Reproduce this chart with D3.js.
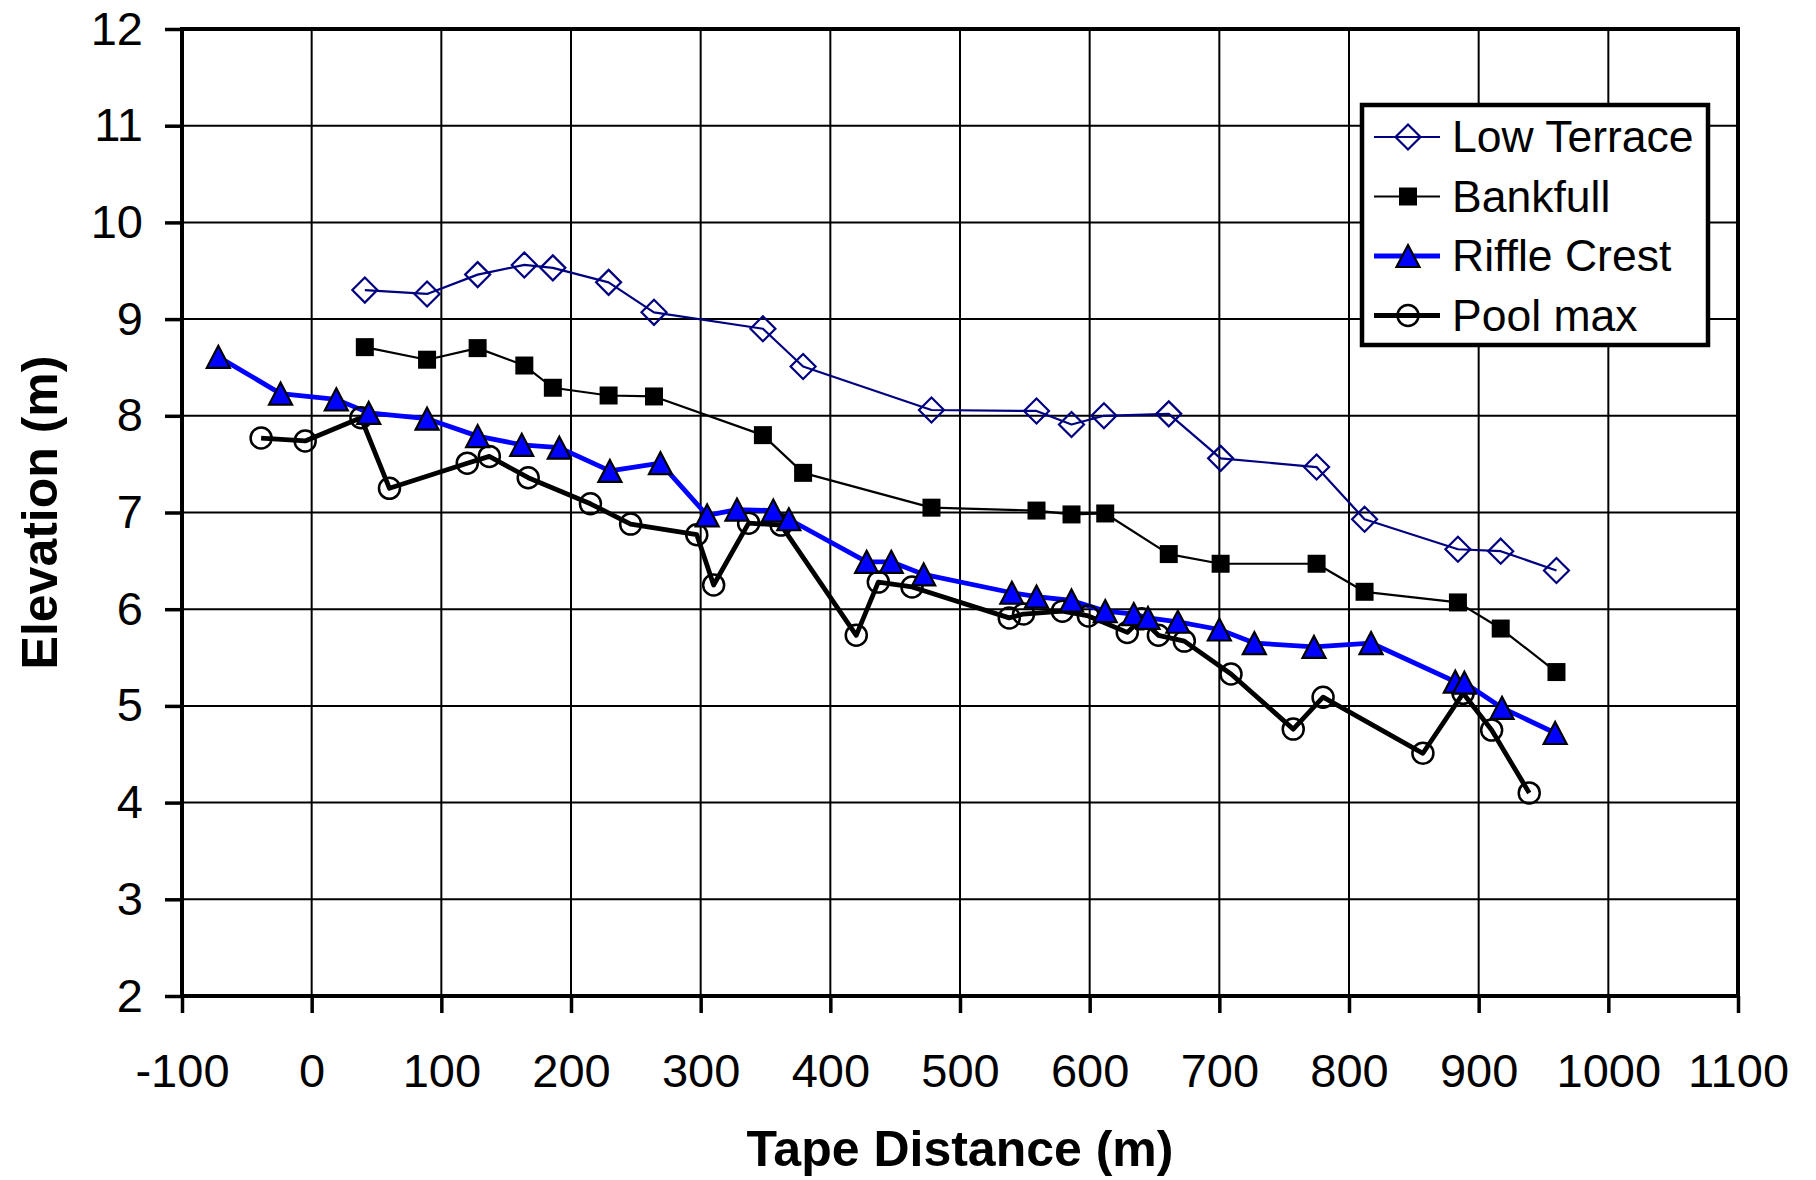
<!DOCTYPE html>
<html>
<head>
<meta charset="utf-8">
<script src="https://cdn.jsdelivr.net/npm/d3@7"></script>
<style>
body { margin: 0; background: #fff; }
text { font-family: "Liberation Sans", Arial, sans-serif; fill: #000; }
</style>
</head>
<body>
<div id="chart"></div>
<script>
// values
var xTicks = [-100, 0, 100, 200, 300, 400, 500, 600, 700, 800, 900, 1000, 1100];
var yTicks = [2, 3, 4, 5, 6, 7, 8, 9, 10, 11, 12];

var lowTerraceX = [41, 89, 128, 164, 186, 229, 264, 348, 379, 478, 559, 586, 611, 661, 701, 775, 812, 884, 917, 960];
var lowTerraceY = [9.30, 9.26, 9.46, 9.56, 9.53, 9.38, 9.07, 8.90, 8.51, 8.06, 8.05, 7.91, 8.00, 8.02, 7.56, 7.47, 6.93, 6.62, 6.60, 6.40];

var bankfullX = [41, 89, 128, 164, 186, 229, 264, 348, 379, 478, 559, 586, 612, 661, 701, 775, 812, 884, 917, 960];
var bankfullY = [8.71, 8.58, 8.70, 8.52, 8.29, 8.21, 8.20, 7.80, 7.41, 7.05, 7.02, 6.98, 6.99, 6.57, 6.47, 6.47, 6.18, 6.07, 5.80, 5.35];

var riffleX = [-72, -24, 19, 44, 89, 128, 162, 191, 230, 269, 305, 328, 356, 368, 428, 447, 472, 540, 559, 586, 612, 634, 645, 668, 700, 727, 773, 817, 882, 889, 918, 959];
var riffleY = [8.61, 8.23, 8.17, 8.03, 7.97, 7.79, 7.70, 7.67, 7.43, 7.51, 6.97, 7.03, 7.02, 6.93, 6.49, 6.49, 6.36, 6.17, 6.13, 6.09, 5.98, 5.95, 5.91, 5.87, 5.79, 5.65, 5.61, 5.65, 5.25, 5.24, 4.98, 4.72];

var poolX = [-39, -5, 38, 60, 120, 137, 167, 215, 246, 297, 310, 337, 362, 420, 437, 463, 538, 549, 579, 599, 629, 640, 653, 673, 709, 757, 780, 857, 888, 910, 939];
var poolY = [7.77, 7.74, 7.98, 7.25, 7.51, 7.58, 7.36, 7.09, 6.88, 6.77, 6.25, 6.89, 6.87, 5.73, 6.28, 6.23, 5.91, 5.95, 5.98, 5.93, 5.76, 5.90, 5.73, 5.67, 5.33, 4.76, 5.09, 4.51, 5.13, 4.75, 4.10];

var seriesNames = ["Low Terrace", "Bankfull", "Riffle Crest", "Pool max"];

var svgWidth = 1816;
var svgHeight = 1180;
var margin = {top: 29, right: 78, bottom: 184, left: 182};
var chartWidth = svgWidth - margin.left - margin.right;
var chartHeight = svgHeight - margin.top - margin.bottom;

var svg = d3.select("#chart")
    .append("svg")
    .attr("width", svgWidth)
    .attr("height", svgHeight);

var chartGroup = svg.append("g")
    .attr("transform", `translate(${margin.left},${margin.top})`);

var xScale = d3.scaleLinear().domain([-100, 1100]).range([0, chartWidth]);
var yScale = d3.scaleLinear().domain([2, 12]).range([chartHeight, 0]);

function zip(xs, ys) {
    return xs.map((x, i) => ({x: x, y: ys[i]}));
}

var series = [
    {name: seriesNames[0], data: zip(lowTerraceX, lowTerraceY), color: "#000080", width: 2.2, marker: "diamond"},
    {name: seriesNames[1], data: zip(bankfullX, bankfullY), color: "#000", width: 2.2, marker: "square"},
    {name: seriesNames[2], data: zip(riffleX, riffleY), color: "#0000ff", width: 4.8, marker: "triangle"},
    {name: seriesNames[3], data: zip(poolX, poolY), color: "#000", width: 4.8, marker: "circle"}
];

// gridlines
chartGroup.append("g").selectAll("line.vgrid")
    .data(xTicks)
    .enter().append("line")
    .attr("x1", d => xScale(d)).attr("x2", d => xScale(d))
    .attr("y1", 0).attr("y2", chartHeight)
    .attr("stroke", "#000").attr("stroke-width", 2);

chartGroup.append("g").selectAll("line.hgrid")
    .data(yTicks)
    .enter().append("line")
    .attr("x1", 0).attr("x2", chartWidth)
    .attr("y1", d => yScale(d)).attr("y2", d => yScale(d))
    .attr("stroke", "#000").attr("stroke-width", 2);

// axes (plain hyphen, no thousands comma)
var plain = d => String(d);
var bottomAxis = d3.axisBottom(xScale).tickValues(xTicks).tickFormat(plain).tickSize(17).tickSizeOuter(0).tickPadding(41);
var leftAxis = d3.axisLeft(yScale).tickValues(yTicks).tickFormat(plain).tickSize(17).tickSizeOuter(0).tickPadding(22);

var xAxis = chartGroup.append("g")
    .attr("transform", `translate(0, ${chartHeight})`)
    .call(bottomAxis);
var yAxis = chartGroup.append("g")
    .call(leftAxis);

[xAxis, yAxis].forEach(function(ax) {
    ax.select(".domain").remove();
    ax.selectAll(".tick line").attr("stroke", "#000").attr("stroke-width", 3.5);
    ax.selectAll(".tick text")
        .style("font-family", "'Liberation Sans', Arial, sans-serif")
        .style("font-size", "47px")
        .attr("fill", "#000");
});

// frame
chartGroup.append("rect")
    .attr("x", 0).attr("y", 0)
    .attr("width", chartWidth).attr("height", chartHeight)
    .attr("fill", "none").attr("stroke", "#000").attr("stroke-width", 4);

// marker shapes
function markerPath(type) {
    if (type === "diamond") return "M0,-12.5L12.5,0L0,12.5L-12.5,0Z";
    if (type === "square") return "M-9,-9H9V9H-9Z";
    if (type === "triangle") return "M0,-11L11.5,11L-11.5,11Z";
    return d3.symbol().type(d3.symbolCircle).size(Math.PI * 10.5 * 10.5)();
}
function markerStyle(sel, type, color) {
    if (type === "diamond") sel.attr("fill", "none").attr("stroke", color).attr("stroke-width", 2.2);
    else if (type === "square") sel.attr("fill", "#000").attr("stroke", "none");
    else if (type === "triangle") sel.attr("fill", "#0000ff").attr("stroke", "#000").attr("stroke-width", 2.2);
    else sel.attr("fill", "none").attr("stroke", "#000").attr("stroke-width", 2.5);
}

var line = d3.line().x(d => xScale(d.x)).y(d => yScale(d.y));

series.forEach(function(s) {
    chartGroup.append("path")
        .datum(s.data)
        .attr("d", line)
        .attr("fill", "none")
        .attr("stroke", s.color)
        .attr("stroke-width", s.width)
        .attr("stroke-linejoin", "round");
});

[series[0], series[1], series[3], series[2]].forEach(function(s) {
    chartGroup.append("g").selectAll("path")
        .data(s.data)
        .enter().append("path")
        .attr("d", markerPath(s.marker))
        .attr("transform", d => `translate(${xScale(d.x)},${yScale(d.y)})`)
        .call(markerStyle, s.marker, s.color);
});

// legend
var legend = svg.append("g").attr("transform", "translate(1362,105)");
legend.append("rect")
    .attr("width", 346).attr("height", 240)
    .attr("fill", "#fff").attr("stroke", "#000").attr("stroke-width", 4.5);

series.forEach(function(s, i) {
    var row = legend.append("g").attr("transform", `translate(0, ${32 + i * 59.5})`);
    row.append("line")
        .attr("x1", 12).attr("x2", 78)
        .attr("stroke", s.color).attr("stroke-width", s.width);
    row.append("path")
        .attr("d", markerPath(s.marker))
        .attr("transform", "translate(46,0)")
        .call(markerStyle, s.marker, s.color);
    row.append("text")
        .attr("x", 90).attr("y", 15)
        .style("font-size", "44.5px")
        .text(s.name);
});

// axis titles
svg.append("text")
    .attr("x", margin.left + chartWidth / 2)
    .attr("y", 1166)
    .attr("text-anchor", "middle")
    .style("font-size", "50px")
    .style("font-weight", "bold")
    .text("Tape Distance (m)");

svg.append("text")
    .attr("transform", `translate(57, ${margin.top + chartHeight / 2}) rotate(-90)`)
    .attr("text-anchor", "middle")
    .style("font-size", "50px")
    .style("font-weight", "bold")
    .text("Elevation (m)");
</script>
</body>
</html>
